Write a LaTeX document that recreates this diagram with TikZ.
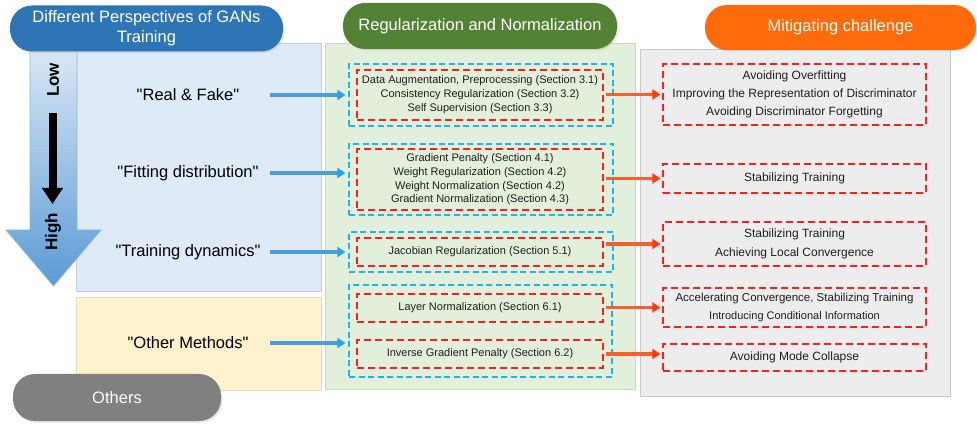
\documentclass[tikz,border=0pt]{standalone}
\usepackage{fontspec}
\setmainfont{Liberation Sans}[Ligatures=TeXOff]
\usetikzlibrary{arrows.meta,shadows,calc}
\definecolor{panelBlue}{HTML}{DEEAF6}
\definecolor{panelBlueEdge}{HTML}{BCCDE0}
\definecolor{panelGreen}{HTML}{E2EFDA}
\definecolor{panelGreenEdge}{HTML}{C9D9BE}
\definecolor{panelGray}{HTML}{EDEDED}
\definecolor{panelGrayEdge}{HTML}{C9C9C9}
\definecolor{panelYellow}{HTML}{FFF2CC}
\definecolor{panelYellowEdge}{HTML}{E3DDC6}
\definecolor{titleBlue}{HTML}{2E75B6}
\definecolor{titleGreen}{HTML}{548235}
\definecolor{titleOrange}{HTML}{FF6A0A}
\definecolor{titleGray}{HTML}{808080}
\definecolor{dashBlue}{HTML}{1FB4EE}
\definecolor{dashRed}{HTML}{FF1E1E}
\definecolor{arrBlue}{HTML}{4A9EDE}
\definecolor{arrBlueTip}{HTML}{25A3E8}
\definecolor{arrOrange}{HTML}{F5602E}
\definecolor{arrOrangeTip}{HTML}{FF3A10}
\definecolor{bigTop}{HTML}{DCE9F6}
\definecolor{bigBot}{HTML}{5B9BD5}
\definecolor{bigEdge}{HTML}{8FB4DD}
\definecolor{txt}{HTML}{1E1E1E}
\begin{document}
\begin{tikzpicture}[x=1pt,y=-1pt,
  panel/.style={rectangle, inner sep=0pt, line width=0.8pt,
    drop shadow={shadow xshift=1pt, shadow yshift=-1pt, opacity=0.15}},
  titlebox/.style={rectangle, rounded corners=22pt, inner sep=0pt, text=white,
    font=\fontsize{16.5}{20}\selectfont, align=center,
    drop shadow={shadow xshift=1.5pt, shadow yshift=-1.5pt, opacity=0.2}},
  lbl/.style={minimum width=164pt, inner sep=0pt, text=black,
    font=\fontsize{16.5}{20}\selectfont},
  bdash/.style={draw=dashBlue, line width=1.2pt, dash pattern=on 6pt off 3.5pt,
    inner sep=0pt, minimum width=264pt},
  rdash/.style={draw=dashRed, line width=1.2pt, dash pattern=on 7pt off 4pt,
    inner sep=0pt, minimum width=246pt, text=txt, align=center,
    font=\fontsize{11}{14}\selectfont},
  odash/.style={draw=dashRed, line width=1.2pt, dash pattern=on 7pt off 4pt,
    inner sep=0pt, minimum width=263pt, text=txt, align=center,
    font=\fontsize{12}{18}\selectfont, fill=panelGray,
    drop shadow={shadow xshift=1pt, shadow yshift=-1pt, opacity=0.12}},
  barrow/.style={draw=arrBlue, line width=3.2pt, shorten >=3pt,
    -{Triangle[length=8pt,width=10pt,color=arrBlueTip]}},
  oarrow/.style={draw=arrOrange, line width=3.5pt, shorten <=2pt, shorten >=2pt,
    -{Triangle[length=8pt,width=10pt,color=arrOrangeTip]}}
]
\useasboundingbox (0,0) rectangle (977,427);

% panels
\node[panel, fill=panelBlue, draw=panelBlueEdge, minimum width=245pt, minimum height=248pt] (pblue) at (198.5,167) {};
\node[panel, fill=panelYellow, draw=panelYellowEdge, minimum width=245pt, minimum height=93pt] (pyellow) at (198.5,343.5) {};
\node[panel, fill=panelGreen, draw=panelGreenEdge, minimum width=310pt, minimum height=346pt] (pgreen) at (480,216) {};
\node[panel, fill=panelGray, draw=panelGrayEdge, minimum width=310pt, minimum height=347pt] (pgray) at (795,222.5) {};

% big low-high arrow
\shadedraw[top color=bigTop, bottom color=bigBot, draw=bigEdge, line width=0.8pt]
  (30,44) -- (77,44) -- (77,230) -- (101,230) -- (53.5,286) -- (6,230) -- (30,230) -- cycle;
\node[rotate=90, font=\bfseries\fontsize{17}{20}\selectfont, inner sep=0pt] (low) at (53,80) {Low};
\node[rotate=90, font=\bfseries\fontsize{17}{20}\selectfont, inner sep=0pt] (high) at (53,232) {High};
\coordinate (ka) at (52.5,113);
\coordinate (kb) at (52.5,204);
\draw[black, line width=8pt, -{Triangle[length=16pt,width=20pt]}] (ka) -- (kb);

% titles
\node[titlebox, fill=titleBlue, minimum width=273pt, minimum height=46pt] (tblue) at (146.5,28.5)
  {Different Perspectives of GANs\\Training};
\node[titlebox, fill=titleGreen, minimum width=274pt, minimum height=46pt] (tgreen) at (480,26)
  {Regularization and Normalization};
\node[titlebox, fill=titleOrange, minimum width=271pt, minimum height=45pt] (torange) at (840.5,27.5)
  {Mitigating challenge};
\node[titlebox, fill=titleGray, minimum width=208pt, minimum height=47pt] (tothers) at (117,397.5)
  {Others};

% left labels
\node[lbl] (rf) at (188,95) {"Real \& Fake"};
\node[lbl] (fd) at (188,173) {"Fitting distribution"};
\node[lbl] (td) at (188,252) {"Training dynamics"};
\node[lbl] (om) at (188,343) {"Other Methods"};

% middle groups
\node[bdash, minimum height=62pt] (b1) at (481,95) {};
\node[rdash, minimum height=50pt] (r1) at (480,95)
  {Data Augmentation, Preprocessing (Section 3.1)\\Consistency Regularization (Section 3.2)\\Self Supervision (Section 3.3)};
\node[bdash, minimum height=71pt] (b2) at (481,179.5) {};
\node[rdash, minimum height=61pt, font=\fontsize{11}{13.7}\selectfont] (r2) at (480,179.5)
  {Gradient Penalty (Section 4.1)\\Weight Regularization (Section 4.2)\\Weight Normalization (Section 4.2)\\Gradient Normalization (Section 4.3)};
\node[bdash, minimum height=40pt] (b3) at (481,252) {};
\node[rdash, minimum height=28pt] (r3) at (480,252) {Jacobian Regularization (Section 5.1)};
\node[bdash, minimum height=92pt, minimum width=263pt] (b4) at (480.5,331) {};
\node[rdash, minimum height=28pt] (r4) at (480,308) {Layer Normalization (Section 6.1)};
\node[rdash, minimum height=28pt] (r5) at (480,354) {Inverse Gradient Penalty (Section 6.2)};

% right boxes
\node[odash, minimum height=61pt] (o1) at (794.5,94.5)
  {Avoiding Overfitting\\Improving the Representation of Discriminator\\Avoiding Discriminator Forgetting};
\node[odash, minimum height=29pt] (o2) at (794.5,178.5) {Stabilizing Training};
\node[odash, minimum height=44pt, font=\fontsize{12}{19}\selectfont] (o3) at (794.5,244)
  {Stabilizing Training\\Achieving Local Convergence};
\node[odash, minimum height=39pt, font=\fontsize{11.5}{18}\selectfont] (o4) at (794.5,307.5)
  {Accelerating Convergence, Stabilizing Training\\{\fontsize{11}{18}\selectfont Introducing Conditional Information}};
\node[odash, minimum height=27pt] (o5) at (794.5,357.5) {Avoiding Mode Collapse};

% blue connectors
\draw[barrow] (rf.east) -- (rf.east -| b1.west);
\draw[barrow] (fd.east) -- (fd.east -| b2.west);
\draw[barrow] (td.east) -- (td.east -| b3.west);
\draw[barrow] (om.east) -- (om.east -| b4.west);

% orange connectors
\draw[oarrow] (o1.west -| r1.east) -- (o1.west);
\draw[oarrow] (o2.west -| r2.east) -- (o2.west);
\draw[oarrow] (o3.west -| r3.east) -- (o3.west);
\draw[oarrow] (o4.west -| r4.east) -- (o4.west);
\draw[oarrow] (r5.east) -- (r5.east -| o5.west);
\end{tikzpicture}
\end{document}
